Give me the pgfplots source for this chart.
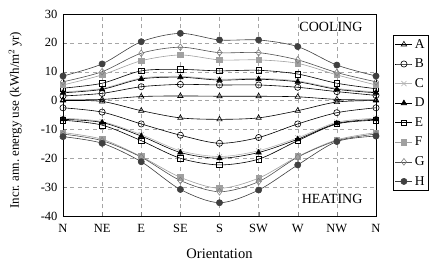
\documentclass[border=0pt]{standalone}
\usepackage{fontspec}
\setmainfont{Liberation Serif}
\usepackage{pgfplots}
\pgfplotsset{compat=1.18}
\definecolor{cgray}{HTML}{B4B4B4}
\definecolor{fgray}{HTML}{A0A0A0}
\definecolor{ggray}{HTML}{505050}
\definecolor{hgray}{HTML}{404040}
\begin{document}
\begin{tikzpicture}
\begin{axis}[
 scale only axis, width=313pt, height=202pt,
 xmin=0, xmax=8, ymin=-40, ymax=30,
 xtick={0,...,8}, xticklabels={N,NE,E,SE,S,SW,W,NW,N},
 ytick={-40,-30,...,30},
 grid=major, major grid style={gray!70, dash pattern=on 4pt off 3.5pt},
 tick pos=left, tick align=inside,
 axis line style={line width=0.8pt},
 xlabel={Orientation}, ylabel={Incr.\ ann.\ energy use (kWh/m$^2$\,yr)},
 /pgf/number format/assume math mode=true,
 tick label style={font=\fontsize{12.5}{14}\selectfont},
 yticklabel style={xshift=-2pt},
 xticklabel style={yshift=-5pt},
 xlabel style={font=\fontsize{14.5}{16}\selectfont, at={(axis description cs:0.5,0)}, anchor=north, yshift=-29pt},
 ylabel style={font=\fontsize{13}{15}\selectfont, at={(axis description cs:-0.153,0.475)}, anchor=center},
 legend style={at={(1.054,0.896)}, anchor=north west, draw=black, font=\fontsize{13.5}{15}\selectfont, row sep=5.2pt, inner sep=2pt},
 legend cell align=left,
 every axis plot/.append style={smooth, mark size=3.1pt, line width=0.6pt},
]
% A
\addplot[black, mark=triangle, mark options={fill=white, solid}] coordinates {(0,0.2)(1,0.4)(2,1.4)(3,1.6)(4,1.5)(5,1.5)(6,1.3)(7,0.4)(8,0.2)};
\addlegendentry{A}
\addplot[black, mark=triangle, mark options={fill=white}, forget plot] coordinates {(0,0)(1,-0.3)(2,-3.5)(3,-6.0)(4,-6.5)(5,-6.0)(6,-3.5)(7,-0.5)(8,0)};
% B
\addplot[black, mark=o, mark options={fill=white}] coordinates {(0,1.6)(1,2.5)(2,4.8)(3,5.6)(4,5.4)(5,5.4)(6,4.6)(7,3.1)(8,1.8)};
\addlegendentry{B}
\addplot[black, mark=o, mark options={fill=white}, forget plot] coordinates {(0,-2.5)(1,-4.0)(2,-8.1)(3,-12.0)(4,-14.8)(5,-12.8)(6,-8.1)(7,-4.2)(8,-2.5)};
% C
\addplot[cgray, mark=x, mark size=3.6pt] coordinates {(0,3.0)(1,4.2)(2,7.8)(3,8.4)(4,7.4)(5,7.7)(6,6.8)(7,4.2)(8,3.0)};
\addlegendentry{C}
\addplot[cgray, mark=x, mark size=3.6pt, forget plot] coordinates {(0,-6.1)(1,-7.3)(2,-11.8)(3,-17.4)(4,-19.4)(5,-17.4)(6,-12.9)(7,-7.5)(8,-6.1)};
% D
\addplot[black, mark=triangle*, mark options={fill=black}] coordinates {(0,2.7)(1,3.9)(2,7.5)(3,8.1)(4,7.1)(5,7.4)(6,6.5)(7,3.9)(8,2.7)};
\addlegendentry{D}
\addplot[black, mark=triangle*, mark options={fill=black}, forget plot] coordinates {(0,-6.5)(1,-7.6)(2,-12.3)(3,-18.0)(4,-20.0)(5,-18.0)(6,-13.4)(7,-7.9)(8,-6.5)};
% E
\addplot[black, mark=square, mark size=2.8pt, mark options={fill=white}] coordinates {(0,4.3)(1,6.0)(2,10.3)(3,10.8)(4,10.3)(5,10.5)(6,9.2)(7,6.0)(8,4.1)};
\addlegendentry{E}
\addplot[black, mark=square, mark size=2.8pt, mark options={fill=white}, forget plot] coordinates {(0,-6.8)(1,-8.5)(2,-13.9)(3,-20.0)(4,-22.3)(5,-20.3)(6,-13.9)(7,-8.1)(8,-6.8)};
% F
\addplot[fgray, mark=square*, mark size=2.8pt, mark options={fill=fgray}] coordinates {(0,5.4)(1,8.9)(2,13.8)(3,15.8)(4,14.1)(5,14.1)(6,12.9)(7,8.9)(8,5.4)};
\addlegendentry{F}
\addplot[fgray, mark=square*, mark size=2.8pt, mark options={fill=fgray}, forget plot] coordinates {(0,-11.1)(1,-13.4)(2,-19.4)(3,-26.6)(4,-30.4)(5,-26.9)(6,-19.4)(7,-13.6)(8,-11.1)};
% G
\addplot[ggray, mark=diamond, mark size=3.4pt, mark options={fill=white, draw=gray}] coordinates {(0,6.5)(1,10.0)(2,16.4)(3,18.5)(4,16.6)(5,16.6)(6,14.1)(7,9.7)(8,6.5)};
\addlegendentry{G}
\addplot[ggray, mark=diamond, mark size=3.4pt, mark options={fill=white, draw=gray}, forget plot] coordinates {(0,-11.6)(1,-13.9)(2,-19.6)(3,-27.7)(4,-31.6)(5,-28.1)(6,-19.6)(7,-13.9)(8,-11.6)};
% H
\addplot[hgray, mark=*, mark options={fill=hgray}] coordinates {(0,8.5)(1,12.7)(2,20.4)(3,23.3)(4,21.0)(5,21.0)(6,18.7)(7,12.3)(8,8.5)};
\addlegendentry{H}
\addplot[hgray, mark=*, mark options={fill=hgray}, forget plot] coordinates {(0,-12.5)(1,-14.8)(2,-21.2)(3,-30.8)(4,-35.4)(5,-31.0)(6,-22.3)(7,-14.2)(8,-12.3)};
\node[anchor=east, font=\fontsize{14}{16}\selectfont] at (rel axis cs:0.968,0.938) {COOLING};
\node[anchor=east, font=\fontsize{14}{16}\selectfont] at (rel axis cs:0.968,0.084) {HEATING};
\end{axis}
\pgfresetboundingbox
\useasboundingbox (current axis.south west) ++(-63pt,-48pt) rectangle ++(432pt,264pt);
\end{tikzpicture}
\end{document}
